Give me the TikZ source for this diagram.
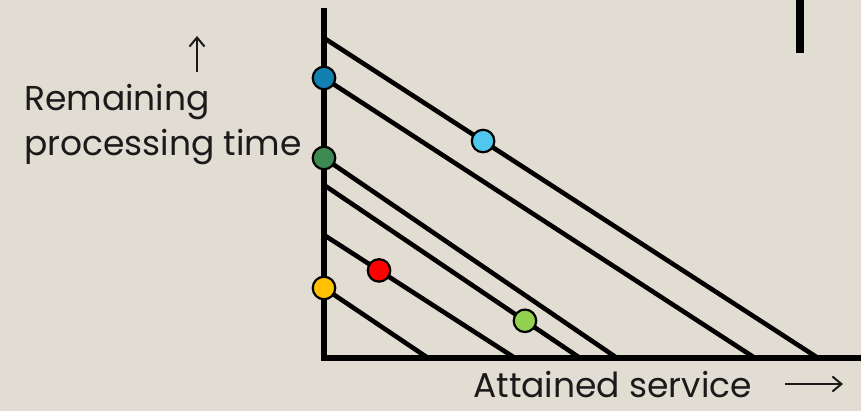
\documentclass[tikz,border=0pt]{standalone}
\usepackage{fontspec}
\setmainfont{Poppins}
\usetikzlibrary{arrows.meta,calc}
\definecolor{bgc}{HTML}{E2DDD2}
\definecolor{dblue}{HTML}{1380B2}
\definecolor{dgreen}{HTML}{3C8A52}
\definecolor{lblue}{HTML}{50C8EE}
\definecolor{lgreen}{HTML}{92D050}
\definecolor{yel}{HTML}{FFC000}
\definecolor{txt}{HTML}{1A1A1A}
\tikzset{
  dot/.style={circle, draw=black, line width=2.2pt, inner sep=0pt, minimum size=22.5pt},
  job/.style={line width=4.6pt, black},
  axisline/.style={line width=5.3pt, black},
  lbl/.style={text=txt, font=\fontsize{34.5}{40}\selectfont, inner sep=0pt},
  thinarrow/.style={line width=2pt, txt, -{Straight Barb[length=9pt,width=15pt]}}
}
\begin{document}
\begin{tikzpicture}[x=1pt,y=-1pt]
\fill[bgc] (0,0) rectangle (861,411);
\useasboundingbox (0,0) rectangle (861,411);
% axes
\coordinate (ytop) at (324,8);
\coordinate (orig) at (324,358);
\coordinate (xend) at (861,358);
\draw[axisline] (ytop) -- (orig) -- (xend);
% bar
\fill[black] (796,0) rectangle (804,53);
% job lines
\coordinate (s1) at (324,38);  \coordinate (e1) at (818,358);
\coordinate (s2) at (324,78);  \coordinate (e2) at (755,358);
\coordinate (s3) at (324,158); \coordinate (e3) at (617,358);
\coordinate (s4) at (324,185); \coordinate (e4) at (580,358);
\coordinate (s5) at (324,235); \coordinate (e5) at (515,358);
\coordinate (s6) at (324,288); \coordinate (e6) at (428,358);
\foreach \i in {1,...,6} { \draw[job] (s\i) -- (e\i); }
% dots
\node[dot, fill=dblue]  (d1) at (s2) {};
\node[dot, fill=dgreen] (d2) at (s3) {};
\node[dot, fill=yel]    (d3) at (s6) {};
\node[dot, fill=lblue]  (d4) at ($(s1)!0.322!(e1)$) {};
\node[dot, fill=red]    (d5) at ($(s5)!0.288!(e5)$) {};
\node[dot, fill=lgreen] (d6) at ($(s4)!0.785!(e4)$) {};
% labels
\node[lbl, anchor=base west] (r1) at (24,111) {Remaining};
\node[lbl, anchor=base west] (r2) at (24,156) {processing time};
\coordinate (ua1) at (197,72); \coordinate (ua2) at (197,36);
\draw[thinarrow] (ua1) -- (ua2);
\node[lbl, text depth=0pt, anchor=base west] (att) at (473,397) {Attained service};
\coordinate (ra1) at (785,384); \coordinate (ra2) at (843,384);
\draw[thinarrow] (ra1) -- (ra2);
\end{tikzpicture}
\end{document}
